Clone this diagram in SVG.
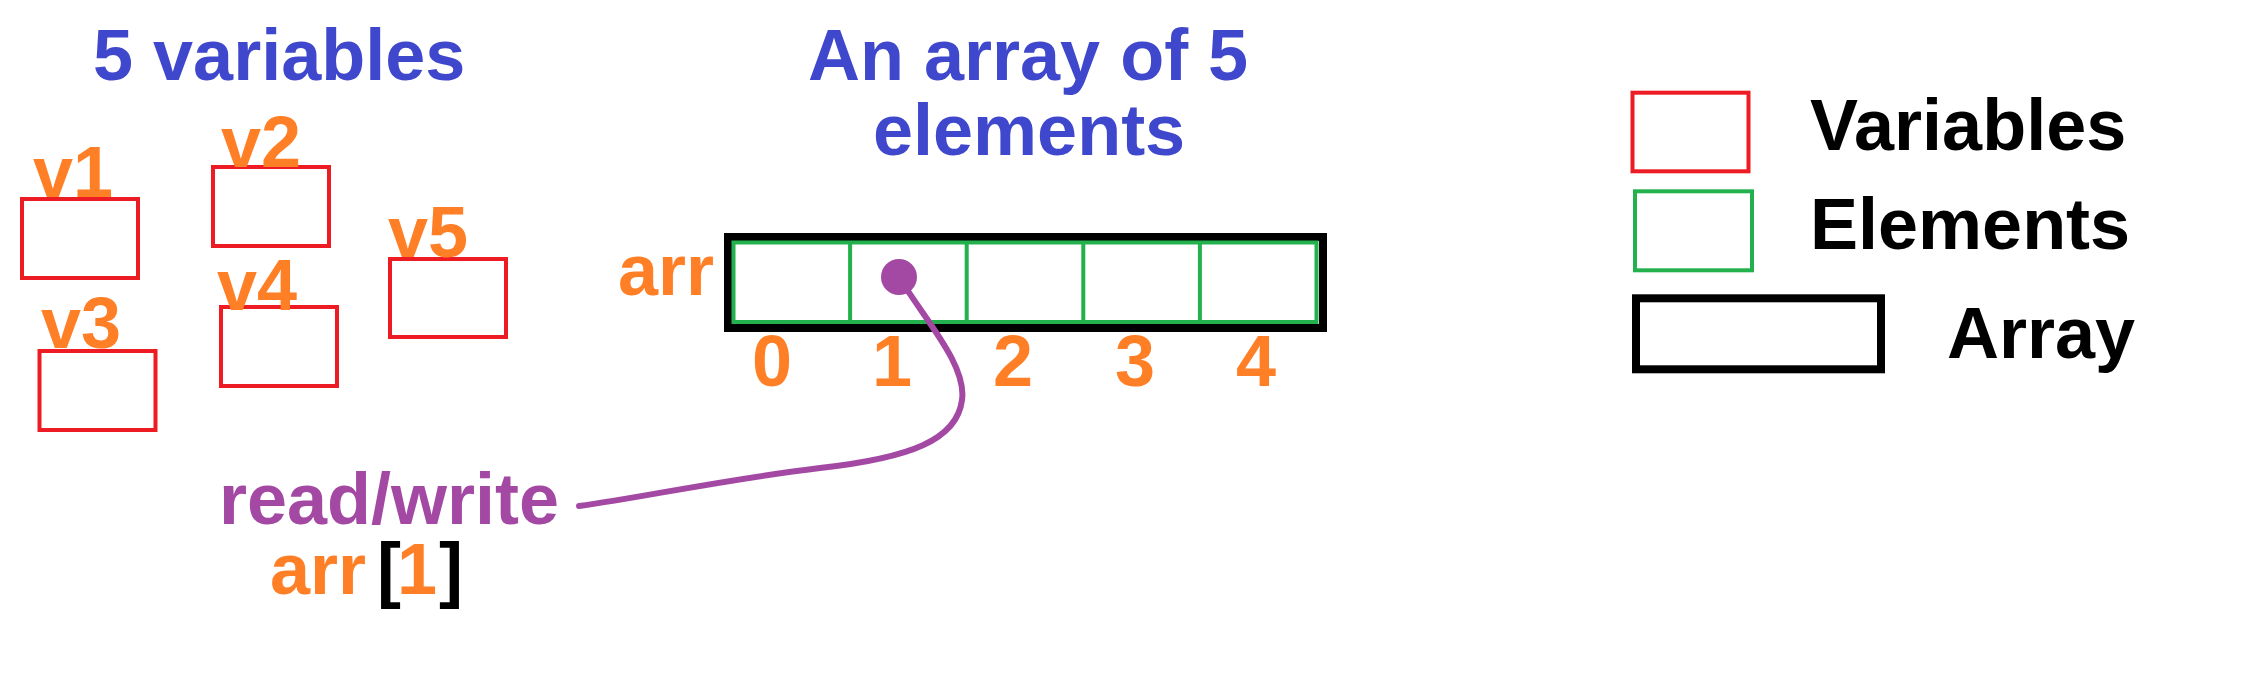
<svg xmlns="http://www.w3.org/2000/svg" width="2246" height="688" viewBox="0 0 2246 688">
<style>
text{font-family:"Liberation Sans",Arial,sans-serif;font-weight:bold;font-size:72px}
.title{fill:#3F48CC}
.or{fill:#FF7F27}
.blk{fill:#000}
.pur{fill:#A349A4}
.var{fill:none;stroke:#ED1C24;stroke-width:4}
.el{fill:none;stroke:#22B14C;stroke-width:4}
.arr{fill:none;stroke:#000;stroke-width:8}
.dig{text-anchor:middle}
</style>
<rect width="2246" height="688" fill="#fff"/>
<g id="title-variables"><text class="title" x="93" y="80">5 variables</text></g>
<g id="title-array"><text class="title" x="808" y="80">An array of 5</text><text class="title" x="873" y="155">elements</text></g>
<g id="v1"><rect class="var" x="22" y="199" width="116" height="79"/><text class="or" x="33" y="197">v1</text></g>
<g id="v2"><rect class="var" x="213" y="167" width="116" height="79"/><text class="or" x="221" y="167">v2</text></g>
<g id="v3"><rect class="var" x="39.5" y="351" width="116" height="79"/><text class="or" x="41" y="348">v3</text></g>
<g id="v4"><rect class="var" x="221" y="307" width="116" height="79"/><text class="or" x="217" y="310">v4</text></g>
<g id="v5"><rect class="var" x="390" y="259" width="116" height="78"/><text class="or" x="388" y="257">v5</text></g>
<g id="array">
<text class="or" x="618" y="295">arr</text>
<rect class="arr" x="728" y="237" width="595" height="91"/>
<rect class="el" x="733.5" y="242.5" width="583" height="79.5"/>
<path class="el" d="M850.1 242.5V322M966.7 242.5V322M1083.3 242.5V322M1199.9 242.5V322"/>
<text class="or dig" x="772" y="386">0</text>
<text class="or dig" x="892" y="386">1</text>
<text class="or dig" x="1013" y="386">2</text>
<text class="or dig" x="1135" y="386">3</text>
<text class="or dig" x="1256" y="386">4</text>
</g>
<g id="access-label">
<text class="pur" x="219" y="524">read/write</text>
<text class="or" x="270" y="594">arr</text>
<text class="blk" x="377" y="594">[</text>
<text class="or" x="397" y="594">1</text>
<text class="blk" x="439" y="594">]</text>
</g>
<g id="connectors">
<path d="M899 277C925 320 967 365 962 400C957 440 910 458 820 468C720 480 640 498 579 506" fill="none" stroke="#A349A4" stroke-width="6" stroke-linecap="round"/>
<circle cx="899" cy="277" r="18" fill="#A349A4"/>
</g>
<g id="legend-variables"><rect class="var" x="1632.5" y="92.7" width="116" height="78.6"/><text class="blk" x="1810" y="150">Variables</text></g>
<g id="legend-elements"><rect class="el" x="1635" y="191.3" width="117" height="79"/><text class="blk" x="1810" y="249">Elements</text></g>
<g id="legend-array"><rect class="arr" x="1636" y="298.3" width="245" height="71"/><text class="blk" x="1947" y="358">Array</text></g>
</svg>
